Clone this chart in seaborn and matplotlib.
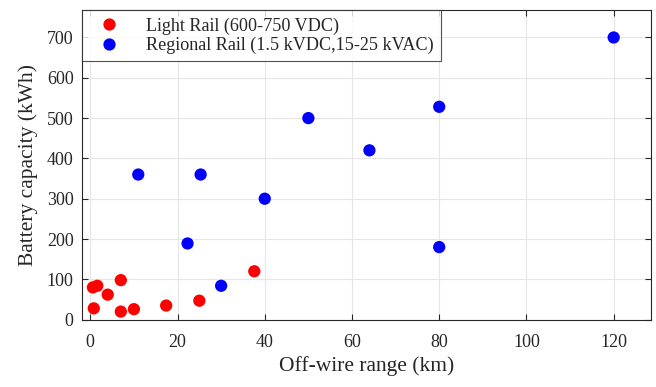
import pandas as pd
import numpy as np
import matplotlib.pyplot as plt
import seaborn as sns

# light rail points (off-wire range km, battery kWh)
light_range = [0.6, 1.6, 0.8, 4, 7, 7, 10, 17.4, 25, 37.6]
light_kwh = [80, 84, 28, 62, 98, 20, 26, 35, 47, 120]

# regional rail points
regional_range = [11, 25.3, 22.3, 30, 40, 50, 64, 80, 80, 120]
regional_kwh = [360, 360, 189, 84, 300, 500, 420, 528, 180, 700]

labels = ["Light Rail (600-750 VDC)", "Regional Rail (1.5 kVDC,15-25 kVAC)"]
colors = {labels[0]: "#ff0000", labels[1]: "#0000ff"}

data = pd.DataFrame({
    "range": light_range + regional_range,
    "kwh": light_kwh + regional_kwh,
    "type": [labels[0]] * len(light_range) + [labels[1]] * len(regional_range),
})

sns.set_style("white")
plt.rcParams["font.family"] = ["Liberation Serif", "DejaVu Serif"]

fig = plt.figure(figsize=(6.56, 3.87), dpi=100)
ax = fig.add_axes([0.125, 0.173, 0.867, 0.801])

sns.scatterplot(x="range", y="kwh", hue="type", data=data, palette=colors,
                s=78, edgecolor="none", ax=ax, zorder=3)

ax.set_xlim(-1.9, 128.5)
ax.set_ylim(-1, 768)
ax.set_xticks(np.arange(0, 121, 20))
ax.set_yticks(np.arange(0, 701, 100))
ax.grid(True, color="#e6e6e6", linewidth=0.8, zorder=0)
ax.set_axisbelow(True)

for sp in ax.spines.values():
    sp.set_color("#262626")
    sp.set_linewidth(0.8)
ax.tick_params(direction="in", length=4, width=0.8, color="#262626",
               labelsize=13, labelcolor="#262626",
               top=True, right=True, bottom=True, left=True, pad=6)
ax.tick_params(axis="x", pad=10)

ax.set_xlabel("Off-wire range (km)", fontsize=15.5, color="#262626", labelpad=4)
ax.set_ylabel("Battery capacity (kWh)", fontsize=15.5, color="#262626", labelpad=6)

leg = ax.legend(loc="upper left", fontsize=13.1, frameon=True, fancybox=False,
                borderaxespad=0, borderpad=0.4, handletextpad=0.9,
                labelspacing=0.12, markerscale=1.0, handlelength=2.2)
leg.get_frame().set_edgecolor("#262626")
leg.get_frame().set_linewidth(0.8)
for t in leg.get_texts():
    t.set_color("#262626")

plt.savefig("out.png", dpi=100)
